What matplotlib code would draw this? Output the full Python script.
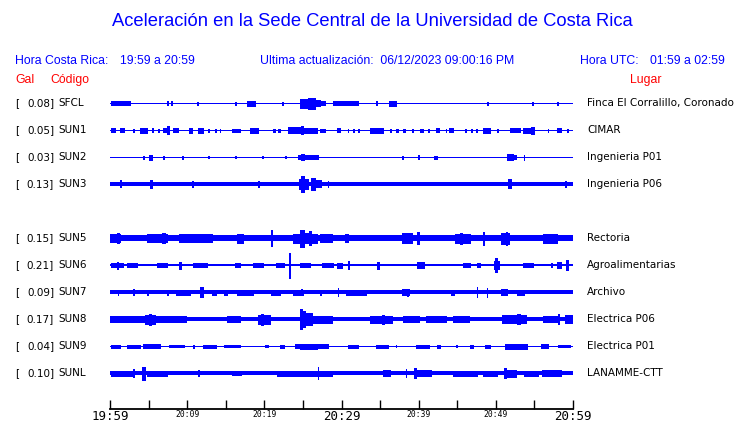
import matplotlib
matplotlib.use("Agg")
from matplotlib import pyplot as plt

W, H = 740, 423
BLUE = "#0000ff"
RED = "#ff0000"

codes = ["SFCL", "SUN1", "SUN2", "SUN3", "SUN5", "SUN6", "SUN7", "SUN8", "SUN9", "SUNL"]
gal = [0.08, 0.05, 0.03, 0.13, 0.15, 0.21, 0.09, 0.17, 0.04, 0.10]
lugar = ["Finca El Corralillo, Coronado", "CIMAR", "Ingenieria P01", "Ingenieria P06",
         "Rectoria", "Agroalimentarias", "Archivo", "Electrica P06", "Electrica P01",
         "LANAMME-CTT"]
slots = [0, 1, 2, 3, 5, 6, 7, 8, 9, 10]  # SUN4 row is empty

# background half-amplitude of each trace (px)
base = [0.4, 0.5, 0.4, 2.2, 3.0, 1.4, 1.8, 2.3, 0.5, 1.7]

# bursts: (start min, end min, half amplitude px)
bursts = {
    "SFCL": [(0.1, 2.6, 2), (7.4, 7.5, 2), (7.9, 8.0, 2), (11.3, 11.4, 1.5), (16.2, 16.3, 1.5),
             (17.7, 18.8, 2.5), (22.3, 22.4, 1.5), (24.6, 25.6, 4.5), (25.6, 26.6, 5.5),
             (26.6, 27.2, 3), (27.2, 27.8, 2), (28.9, 32.1, 2), (34.5, 34.6, 2),
             (36.2, 37.1, 2.5), (48.9, 49.0, 1.5), (54.7, 54.8, 1.5), (57.9, 58.0, 1.5)],
    "SUN1": [(0.1, 0.7, 2), (1.3, 1.8, 2), (3.0, 3.1, 1.5), (3.9, 4.8, 2.5), (5.4, 5.6, 2),
             (6.2, 6.3, 1.5), (6.9, 7.3, 2), (7.4, 7.6, 4), (8.2, 8.8, 2), (10.3, 10.6, 2.5),
             (11.4, 12.0, 2.5), (12.7, 12.8, 1.5), (13.6, 13.7, 1.5), (14.2, 14.3, 1.5),
             (15.8, 16.8, 1.5), (18.1, 19.2, 2.5), (21.1, 21.4, 1.5), (21.8, 22.0, 1.5),
             (23.1, 24.6, 3), (24.8, 25.0, 4), (25.0, 26.8, 2.5), (27.2, 27.8, 1.5),
             (29.4, 29.8, 2), (30.8, 30.9, 1.5), (31.5, 31.6, 1.5), (32.2, 32.3, 1.5),
             (33.7, 35.4, 2.5), (36.3, 36.4, 1.5), (37.0, 37.3, 1.5), (38.0, 38.2, 1.5),
             (39.2, 39.3, 1.5), (40.2, 40.5, 1.5), (41.2, 41.3, 1.5), (42.2, 42.6, 2),
             (43.5, 43.6, 1.5), (43.9, 44.4, 2), (46.0, 46.1, 1.5), (46.8, 46.9, 1.5),
             (47.4, 47.5, 1.5), (48.3, 49.2, 2.5), (50.1, 50.3, 1.5), (51.8, 53.1, 2),
             (53.5, 54.8, 2.5), (54.5, 54.9, 3.5), (56.7, 56.8, 1.5), (57.9, 58.5, 2),
             (59.2, 59.3, 1.5)],
    "SUN2": [(4.3, 4.4, 1.5), (5.1, 5.4, 2.5), (6.9, 7.0, 1.5), (9.3, 9.4, 1.5), (12.7, 12.8, 1.2),
             (16.2, 16.3, 1.2), (19.7, 19.8, 1.2), (22.7, 22.8, 1.2), (24.4, 27.0, 2.2),
             (24.8, 25.1, 3), (37.9, 38.0, 1.5), (39.9, 40.0, 2), (42.0, 42.4, 1.5),
             (51.5, 52.2, 3), (52.2, 52.6, 2), (53.6, 53.7, 2.5)],
    "SUN3": [(1.3, 1.4, 3.5), (5.2, 5.5, 4), (10.6, 10.7, 3), (19.2, 19.3, 3), (24.5, 24.8, 5),
             (24.8, 25.1, 8), (25.1, 25.7, 5), (26.0, 26.6, 6), (26.6, 27.3, 3.5),
             (28.2, 28.3, 3), (51.6, 52.0, 4.5), (59.0, 59.1, 3)],
    "SUN5": [(0.0, 1.3, 4), (0.9, 1.2, 5), (4.8, 7.4, 4), (6.8, 7.1, 5), (9.0, 13.2, 4),
             (16.4, 17.2, 4.5), (20.9, 21.0, 8), (23.7, 24.6, 4.5), (24.6, 25.2, 8.5),
             (25.2, 25.8, 5), (25.8, 26.1, 7), (26.1, 26.8, 4.5), (27.2, 28.8, 4),
             (30.4, 30.9, 4), (37.8, 39.1, 5), (39.8, 40.0, 6), (44.7, 46.6, 4.5),
             (45.3, 45.6, 5.5), (48.3, 48.5, 6.5), (50.7, 51.7, 5.5), (51.3, 51.5, 6.5),
             (56.1, 57.9, 4.5)],
    "SUN6": [(0.1, 1.7, 2), (0.9, 1.1, 3.5), (2.2, 3.5, 2), (6.1, 7.4, 2), (9.0, 9.2, 3.5),
             (10.8, 12.6, 2), (16.2, 16.8, 2), (18.5, 19.8, 2), (21.5, 22.5, 2),
             (23.2, 23.3, 12.5), (24.6, 25.9, 2), (27.5, 28.9, 2), (29.4, 30.1, 2.5),
             (30.9, 31.0, 4), (34.6, 34.8, 3.5), (39.8, 40.7, 3), (45.7, 46.6, 2),
             (47.5, 47.9, 2), (49.7, 50.4, 4), (49.9, 50.1, 7), (53.5, 54.8, 2),
             (57.2, 57.3, 2), (57.9, 58.5, 3), (59.1, 59.3, 5)],
    "SUN7": [(1.0, 1.1, 2.5), (3.0, 3.1, 3), (4.8, 4.9, 2.5), (7.4, 7.5, 2.5), (8.6, 10.4, 2.5),
             (11.6, 12.1, 5), (13.2, 13.7, 2.5), (14.8, 15.2, 2.5), (16.4, 18.5, 2.5),
             (20.9, 22.0, 2.5), (23.7, 25.0, 2.5), (24.8, 24.9, 3), (27.2, 27.4, 2.5),
             (29.5, 29.6, 4), (30.6, 33.2, 2.5), (37.9, 38.8, 3), (38.5, 38.6, 3.5),
             (44.2, 44.6, 2.5), (47.5, 47.6, 5), (48.8, 48.9, 4.5), (50.7, 51.4, 3),
             (52.7, 53.7, 2.5)],
    "SUN8": [(0.0, 4.8, 3), (4.5, 5.8, 4.5), (5.1, 5.3, 5.5), (6.0, 9.9, 3), (15.2, 16.8, 3),
             (19.2, 20.7, 4.5), (19.6, 19.8, 5.5), (24.6, 24.9, 10), (24.9, 25.3, 8),
             (25.3, 26.2, 6), (26.2, 28.8, 3.5), (33.7, 36.6, 3.5), (35.3, 35.5, 4.5),
             (38.0, 40.0, 3), (41.0, 43.5, 3), (44.5, 46.5, 3), (50.8, 53.9, 4),
             (52.8, 53.1, 5), (56.1, 57.9, 3), (58.0, 58.2, 5), (59.0, 60.0, 4)],
    "SUN9": [(0.1, 1.3, 1.5), (2.2, 3.9, 1.5), (4.3, 6.5, 2), (7.6, 9.6, 1.2), (10.7, 10.9, 1.5),
             (12.0, 13.8, 1.5), (14.8, 16.8, 1.2), (20.1, 20.5, 1.2), (22.0, 22.6, 1.5),
             (24.0, 28.2, 2.2), (24.6, 26.8, 2.5), (30.9, 32.1, 1.5), (34.5, 36.0, 1.5),
             (37.0, 37.1, 1.2), (39.6, 41.4, 1.5), (42.4, 42.8, 1.5), (44.9, 45.0, 1.2),
             (46.6, 47.0, 1.5), (48.6, 49.2, 1.5), (51.2, 54.0, 2.5), (55.9, 56.7, 2),
             (58.0, 59.6, 1.2)],
    "SUNL": [(0.1, 3.0, 2.5), (3.0, 3.1, 4), (4.2, 4.5, 6.5), (4.8, 7.4, 2.5), (11.4, 11.5, 3),
             (15.8, 17.0, 2.2), (21.6, 27.2, 2.5), (26.9, 27.0, 6), (27.2, 28.8, 2.5),
             (35.4, 36.3, 3), (38.3, 38.4, 4), (39.4, 39.6, 5), (39.8, 41.6, 3),
             (44.4, 47.5, 2.5), (48.3, 50.2, 2.5), (51.1, 51.3, 5), (51.3, 52.6, 3.5),
             (53.6, 55.5, 2.5), (56.0, 58.5, 3)],
}

tick_min = list(range(0, 61, 5))
label_min = [0, 10, 20, 30, 40, 50, 60]
label_txt = ["19:59", "20:09", "20:19", "20:29", "20:39", "20:49", "20:59"]
big_labels = ["19:59", "20:29", "20:59"]

fig = plt.figure(figsize=(W / 100, H / 100), dpi=100)


def ftext(x, y, s, **kw):
    # place text with pixel coordinates measured from the top-left corner
    fig.text(x / W, 1 - y / H, s, va="center", **kw)


ftext(372, 22, "Aceleración en la Sede Central de la Universidad de Costa Rica",
      ha="center", color=BLUE, fontsize=13.2, family="Liberation Sans")
hdr = dict(color=BLUE, fontsize=8.8, family="Liberation Sans")
ftext(15, 61, "Hora Costa Rica:", **hdr)
ftext(120, 61, "19:59 a 20:59", **hdr)
ftext(260, 61, "Ultima actualización:  06/12/2023 09:00:16 PM", **hdr)
ftext(580, 61, "Hora UTC:", **hdr)
ftext(650, 61, "01:59 a 02:59", **hdr)
red = dict(color=RED, fontsize=8.8, family="Liberation Sans")
ftext(15, 80, "Gal", **red)
ftext(50, 80, "Código", **red)
ftext(630, 80, "Lugar", **red)

ax = fig.add_axes([110 / W, (H - 409) / H, 463 / W, (409 - 90) / H])
ax.set_xlim(0, 60)
ax.set_ylim(409, 90)

lab = dict(color="black", fontsize=7.5, family="DejaVu Sans")
for i, code in enumerate(codes):
    y = 103 + 27 * slots[i]
    if base[i] > 1:
        ax.fill_between([0, 60], y - base[i], y + base[i], color=BLUE, lw=0, antialiased=False)
    ax.hlines(y, 0, 60, color=BLUE, lw=0.6, antialiased=False)
    b = bursts[code]
    ax.bar([t0 for t0, t1, h in b], [2 * h for t0, t1, h in b], width=[t1 - t0 for t0, t1, h in b],
           bottom=[y - h for t0, t1, h in b], align="edge", color=BLUE, edgecolor=BLUE,
           linewidth=0.5, antialiased=False)
    ftext(15, y, "[", **lab)
    ftext(54, y, "%.2f]" % gal[i], ha="right", **lab)
    ftext(58, y, code, **lab)
    ftext(587, y, lugar[i], **lab)

for s in ["top", "left", "right"]:
    ax.spines[s].set_visible(False)
ax.spines["bottom"].set_linewidth(1.3)
ax.set_yticks([])
ax.set_xticks(tick_min)
ax.set_xticklabels([label_txt[label_min.index(m)] if m in label_min else "" for m in tick_min])
ax.tick_params(axis="x", direction="in", length=6.5, width=1, pad=1)
for t in ax.get_xticklabels():
    t.set_family("DejaVu Sans Mono")
    t.set_fontsize(9 if t.get_text() in big_labels else 5.8)

fig.savefig("out.png", dpi=100)
